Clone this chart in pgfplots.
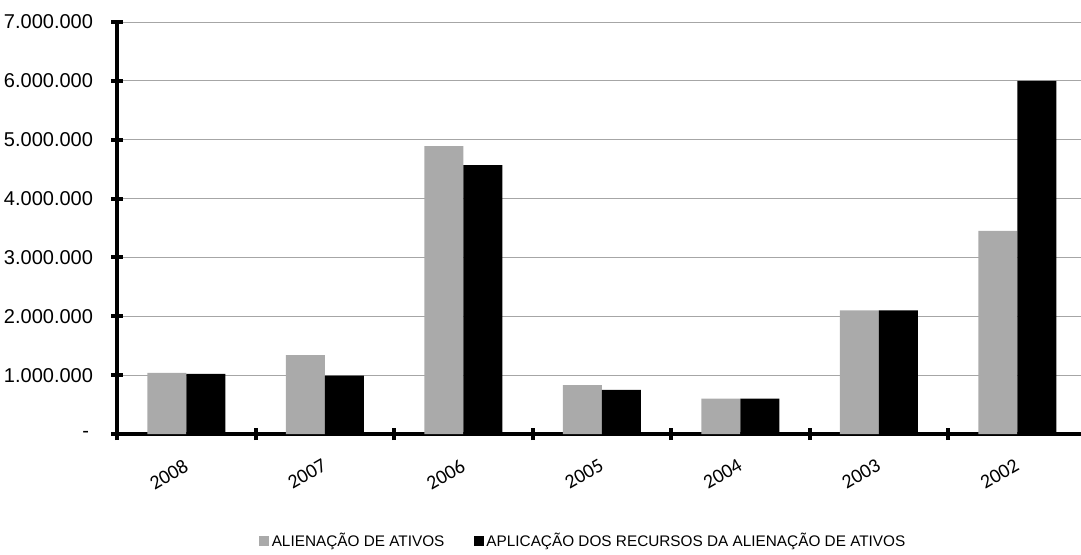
\documentclass[border=0pt]{standalone}
\usepackage{pgfplots}
\pgfplotsset{compat=1.18}
\usepackage{fontspec}
\setmainfont{Liberation Sans}
\newfontfamily\calibri{Carlito}
\definecolor{barGray}{HTML}{AAAAAA}
\begin{document}
\begin{tikzpicture}
\path[use as bounding box] (0,0) rectangle (810.75pt,415.5pt);
\begin{axis}[
  at={(87.75pt,90pt)}, anchor=south west,
  scale only axis, width=723pt, height=309pt,
  ybar=0pt, bar width=29.25pt,
  xmin=-0.5, xmax=6.46, ymin=0, ymax=7000000,
  axis x line*=bottom, axis y line*=left,
  axis line style={line width=3pt, -},
  xtick={-0.5,0.5,1.5,2.5,3.5,4.5,5.5},
  xticklabels={},
  extra x ticks={0,1,2,3,4,5,6},
  extra x tick labels={2008,2007,2006,2005,2004,2003,2002},
  extra x tick style={major tick length=0pt, tick style={draw=none},
     xticklabel style={font=\calibri\fontsize{15}{17}\selectfont, xshift=-2.5pt, yshift=-18pt, rotate=30, anchor=north east, inner sep=0pt}},
  ytick={0,1000000,2000000,3000000,4000000,5000000,6000000,7000000},
  yticklabels={{-\hspace*{3pt}},1.000.000,2.000.000,3.000.000,4.000.000,5.000.000,6.000.000,7.000.000},
  scaled y ticks=false,
  major tick length=9pt, tick align=center,
  tick style={line width=3pt, black},
  ymajorgrids, grid style={gray!70, line width=0.7pt},
  yticklabel style={font=\fontsize{15}{17}\selectfont, xshift=-10pt},
  legend style={at={(0.484,-0.26)}, anchor=center, legend columns=2, draw=none,
     font=\fontsize{11.5}{13}\selectfont,
     /tikz/every even column/.append style={column sep=20pt},
     nodes={inner xsep=2pt}},
]
\addplot[fill=barGray, draw=none, legend image code/.code={\fill[barGray] (0pt,-3.75pt) rectangle (7.5pt,3.75pt);}]
  coordinates {(0,1040000) (1,1340000) (2,4890000) (3,830000) (4,600000) (5,2100000) (6,3450000)};
\addplot[fill=black, draw=none, legend image code/.code={\fill[black] (0pt,-3.75pt) rectangle (7.5pt,3.75pt);}]
  coordinates {(0,1020000) (1,990000) (2,4570000) (3,750000) (4,600000) (5,2100000) (6,6000000)};
\legend{ALIENAÇÃO DE ATIVOS, APLICAÇÃO DOS RECURSOS DA ALIENAÇÃO DE ATIVOS}
\end{axis}
\end{tikzpicture}
\end{document}
